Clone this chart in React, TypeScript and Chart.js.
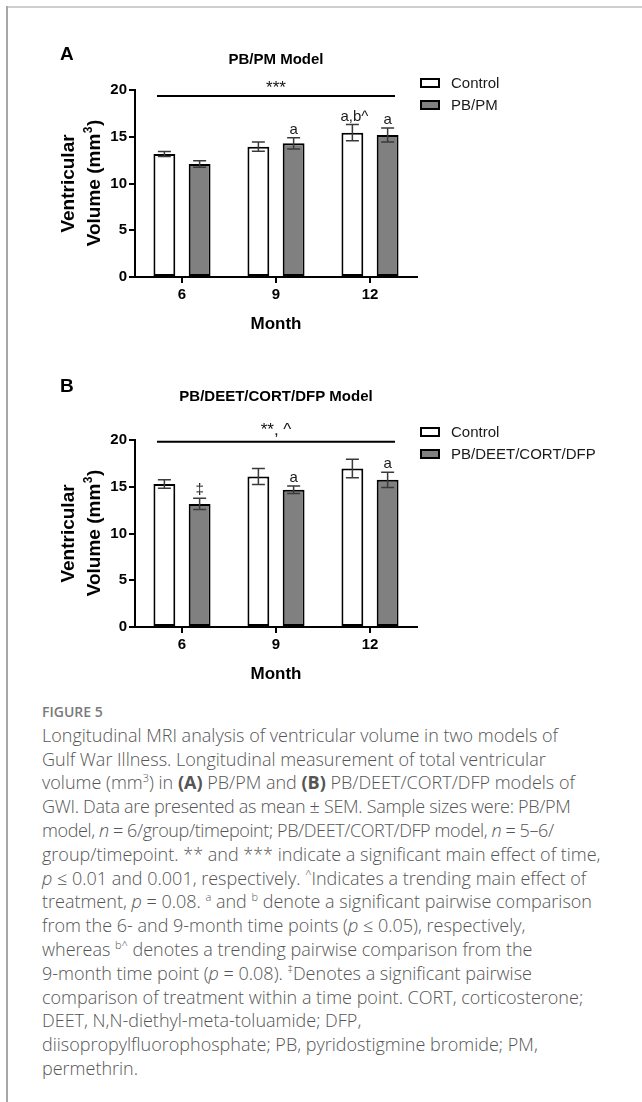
import React, { useEffect, useLayoutEffect, useRef } from 'react';
import { Chart, registerables } from 'chart.js';

Chart.register(...registerables);

const FONT = 'Arial, "Liberation Sans", Helvetica, sans-serif';

// ---- shared axis data ----
const months = ['6', '9', '12'];
const yTickValues = [0, 5, 10, 15, 20];

// ---- Panel A: PB/PM model ----
const controlA = [13.15, 13.94, 15.44];
const controlSemA = [0.27, 0.5, 0.86];
const pbpmA = [12.09, 14.3, 15.19];
const pbpmSemA = [0.35, 0.6, 0.75];
const controlMarksA = ['', '', 'a,b^'];
const pbpmMarksA = ['', 'a', 'a'];

// ---- Panel B: PB/DEET/CORT/DFP model ----
const controlB = [15.29, 16.1, 16.95];
const controlSemB = [0.45, 0.85, 0.98];
const gwiB = [13.16, 14.68, 15.74];
const gwiSemB = [0.6, 0.4, 0.81];
const controlMarksB = ['', '', ''];
const gwiMarksB = ['‡', 'a', 'a'];

type PanelCfg = {
  letter: string;
  title: string;
  treatName: string;
  sigText: string;
  sigValue: number;
  control: number[];
  controlSem: number[];
  treat: number[];
  treatSem: number[];
  controlMarks: string[];
  treatMarks: string[];
  letterY: number;
  titleY: number;
  sigY: number;
  legendY: number;
};

const panelA: PanelCfg = {
  letter: 'A',
  title: 'PB/PM Model',
  treatName: 'PB/PM',
  sigText: '***',
  sigValue: 19.36,
  control: controlA,
  controlSem: controlSemA,
  treat: pbpmA,
  treatSem: pbpmSemA,
  controlMarks: controlMarksA,
  treatMarks: pbpmMarksA,
  letterY: 52,
  titleY: 55.5,
  sigY: 84.5,
  legendY: 75,
};

const panelB: PanelCfg = {
  letter: 'B',
  title: 'PB/DEET/CORT/DFP Model',
  treatName: 'PB/DEET/CORT/DFP',
  sigText: '**, ^',
  sigValue: 19.8,
  control: controlB,
  controlSem: controlSemB,
  treat: gwiB,
  treatSem: gwiSemB,
  controlMarks: controlMarksB,
  treatMarks: gwiMarksB,
  letterY: 34,
  titleY: 42.5,
  sigY: 76.5,
  legendY: 74,
};

const W = 642;
const H = 340;

function Panel({ cfg, top }: { cfg: PanelCfg; top: number }) {
  const ref = useRef<HTMLCanvasElement>(null);
  useEffect(() => {
    const canvas = ref.current;
    if (!canvas) return;
    const sems = [cfg.controlSem, cfg.treatSem];
    const marks = [cfg.controlMarks, cfg.treatMarks];
    const fills = ['#ffffff', '#808080'];
    const names = ['Control', cfg.treatName];

    const decor = {
      id: 'decor',
      afterDraw(chart: any) {
        const ctx: CanvasRenderingContext2D = chart.ctx;
        const ca = chart.chartArea;
        const y = chart.scales.y;
        const cx = (ca.left + ca.right) / 2;
        ctx.save();

        // error bars + marks
        chart.data.datasets.forEach((ds: any, i: number) => {
          const meta = chart.getDatasetMeta(i);
          meta.data.forEach((bar: any, j: number) => {
            const v = ds.data[j] as number;
            const s = sems[i][j];
            const x = bar.x;
            const yt = y.getPixelForValue(v + s);
            const yb = y.getPixelForValue(v - s);
            ctx.strokeStyle = '#3a3a3a';
            ctx.lineWidth = 1.5;
            ctx.beginPath();
            ctx.moveTo(x, yt);
            ctx.lineTo(x, yb);
            ctx.moveTo(x - 6.5, yt);
            ctx.lineTo(x + 6.5, yt);
            ctx.moveTo(x - 6.5, yb);
            ctx.lineTo(x + 6.5, yb);
            ctx.stroke();
            const m = marks[i][j];
            if (m) {
              ctx.fillStyle = '#1a1a1a';
              ctx.font = `15px ${FONT}`;
              ctx.textAlign = 'center';
              ctx.textBaseline = 'alphabetic';
              ctx.fillText(m, x + (m.length > 2 ? 2 : 0), yt - 4);
            }
          });
        });

        // significance line and text
        const ly = y.getPixelForValue(cfg.sigValue);
        ctx.strokeStyle = '#000';
        ctx.lineWidth = 2;
        ctx.beginPath();
        ctx.moveTo(ca.left + 22, ly);
        ctx.lineTo(ca.right - 22, ly);
        ctx.stroke();
        ctx.fillStyle = '#111';
        ctx.font = `17px ${FONT}`;
        ctx.textAlign = 'center';
        ctx.textBaseline = 'alphabetic';
        ctx.fillText(cfg.sigText, cx, cfg.sigY);

        // panel letter
        ctx.fillStyle = '#000';
        ctx.font = `bold 19px ${FONT}`;
        ctx.textAlign = 'left';
        ctx.fillText(cfg.letter, 60, cfg.letterY);

        // title
        ctx.font = `bold 15px ${FONT}`;
        ctx.textAlign = 'center';
        ctx.fillText(cfg.title, cx, cfg.titleY);

        // legend
        names.forEach((n, i) => {
          const yc = cfg.legendY + i * 22;
          ctx.fillStyle = fills[i];
          ctx.fillRect(421, yc - 4, 18, 8);
          ctx.strokeStyle = '#000';
          ctx.lineWidth = 2;
          ctx.strokeRect(421, yc - 4, 18, 8);
          ctx.fillStyle = '#1a1a1a';
          ctx.font = `15px ${FONT}`;
          ctx.textAlign = 'left';
          ctx.fillText(n, 451, yc + 5.4);
        });

        // y-axis title (rotated, two lines)
        const midY = (ca.top + ca.bottom) / 2;
        ctx.fillStyle = '#000';
        ctx.save();
        ctx.translate(74, midY);
        ctx.rotate(-Math.PI / 2);
        ctx.font = `bold 19px ${FONT}`;
        ctx.textAlign = 'center';
        ctx.textBaseline = 'alphabetic';
        ctx.fillText('Ventricular', 0, 0);
        ctx.restore();

        ctx.save();
        ctx.translate(100, midY);
        ctx.rotate(-Math.PI / 2);
        ctx.textAlign = 'left';
        ctx.textBaseline = 'alphabetic';
        const main = 'Volume (mm';
        const sup = '3';
        const close = ')';
        ctx.font = `bold 19px ${FONT}`;
        const w1 = ctx.measureText(main).width;
        const w3 = ctx.measureText(close).width;
        ctx.font = `bold 12px ${FONT}`;
        const w2 = ctx.measureText(sup).width;
        const start = -(w1 + w2 + w3) / 2;
        ctx.font = `bold 19px ${FONT}`;
        ctx.fillText(main, start, 0);
        ctx.font = `bold 12px ${FONT}`;
        ctx.fillText(sup, start + w1 + 0.5, -8);
        ctx.font = `bold 19px ${FONT}`;
        ctx.fillText(close, start + w1 + w2 + 1, 0);
        ctx.restore();

        // x-axis title
        ctx.font = `bold 17px ${FONT}`;
        ctx.textAlign = 'center';
        ctx.fillText('Month', cx, 321);

        ctx.restore();
      },
    };

    const chart = new Chart(canvas, {
      type: 'bar',
      data: {
        labels: months,
        datasets: [
          {
            label: 'Control',
            data: cfg.control,
            backgroundColor: '#ffffff',
            borderColor: '#000000',
            borderWidth: 2,
            borderSkipped: false,
            categoryPercentage: 0.75,
            barPercentage: 0.62,
          },
          {
            label: cfg.treatName,
            data: cfg.treat,
            backgroundColor: '#808080',
            borderColor: '#000000',
            borderWidth: 2,
            borderSkipped: false,
            categoryPercentage: 0.75,
            barPercentage: 0.62,
          },
        ],
      },
      options: {
        responsive: false,
        animation: false,
        devicePixelRatio: 1,
        layout: { padding: { left: 75, right: 225, top: 82, bottom: 41 } },
        plugins: {
          legend: { display: false },
          tooltip: { enabled: false },
          title: { display: false },
        },
        scales: {
          x: {
            grid: {
              offset: false,
              drawOnChartArea: false,
              drawTicks: true,
              tickLength: 6,
              color: '#000',
              lineWidth: 2,
            },
            border: { color: '#000', width: 2 },
            ticks: {
              color: '#000',
              padding: 3,
              font: { family: FONT, size: 15, weight: 'bold' },
            },
            afterFit: (s: any) => {
              s.height = 30;
            },
          },
          y: {
            min: 0,
            max: 20,
            grid: {
              drawOnChartArea: false,
              drawTicks: true,
              tickLength: 6,
              color: '#000',
              lineWidth: 2,
            },
            border: { color: '#000', width: 2 },
            ticks: {
              color: '#000',
              padding: 2,
              font: { family: FONT, size: 15, weight: 'bold' },
            },
            afterBuildTicks: (s: any) => {
              s.ticks = yTickValues.map((v) => ({ value: v }));
            },
            afterFit: (s: any) => {
              s.width = 60;
            },
          },
        },
      } as any,
      plugins: [decor],
    });
    return () => chart.destroy();
  }, [cfg]);

  return (
    <canvas
      ref={ref}
      width={W}
      height={H}
      style={{ position: 'absolute', left: 0, top, width: W, height: H, display: 'block' }}
    />
  );
}

const supStyle: React.CSSProperties = { fontSize: '11px', lineHeight: 0, verticalAlign: 'super' };

function S({ children }: { children: React.ReactNode }) {
  return <span style={supStyle}>{children}</span>;
}

function Caption() {
  return (
    <div
      style={{
        position: 'absolute',
        left: 42,
        top: 700,
        fontFamily: '"Open Sans", "Noto Sans", sans-serif',
        fontWeight: 300,
        fontSize: 18,
        lineHeight: '23.8px',
        color: '#555',
        whiteSpace: 'nowrap',
      }}
    >
      <div style={{ fontSize: 14, fontWeight: 600, color: '#7a7a7a' }}>FIGURE 5</div>
      <div>Longitudinal MRI analysis of ventricular volume in two models of</div>
      <div>Gulf War Illness. Longitudinal measurement of total ventricular</div>
      <div>
        volume (mm<S>3</S>) in <b style={{ fontWeight: 700 }}>(A)</b> PB/PM and{' '}
        <b style={{ fontWeight: 700 }}>(B)</b> PB/DEET/CORT/DFP models of
      </div>
      <div style={{ letterSpacing: '-0.3px' }}>
        GWI. Data are presented as mean ± SEM. Sample sizes were: PB/PM
      </div>
      <div style={{ letterSpacing: '-0.4px' }}>
        model, <i>n</i> = 6/group/timepoint; PB/DEET/CORT/DFP model, <i>n</i> = 5–6/
      </div>
      <div>group/timepoint. ** and *** indicate a significant main effect of time,</div>
      <div>
        <i>p</i> ≤ 0.01 and 0.001, respectively. <S>^</S>Indicates a trending main effect of
      </div>
      <div>
        treatment, <i>p</i> = 0.08. <S>a</S> and <S>b</S> denote a significant pairwise comparison
      </div>
      <div>
        from the 6- and 9-month time points (<i>p</i> ≤ 0.05), respectively,
      </div>
      <div>
        whereas <S>b^</S> denotes a trending pairwise comparison from the
      </div>
      <div>
        9-month time point (<i>p</i> = 0.08). <S>‡</S>Denotes a significant pairwise
      </div>
      <div>comparison of treatment within a time point. CORT, corticosterone;</div>
      <div>DEET, N,N-diethyl-meta-toluamide; DFP,</div>
      <div>diisopropylfluorophosphate; PB, pyridostigmine bromide; PM,</div>
      <div>permethrin.</div>
    </div>
  );
}

export default function App() {
  useLayoutEffect(() => {
    document.body.style.margin = '0';
    document.documentElement.style.overflow = 'hidden';
    document.body.style.background = '#ffffff';
  }, []);
  return (
    <div style={{ position: 'relative', width: 642, height: 1102, overflow: 'hidden', background: '#fff' }}>
      <div style={{ position: 'absolute', left: 6, top: 6, width: 636, height: 2, background: '#cfcfcf' }} />
      <div style={{ position: 'absolute', left: 6, top: 6, width: 2, height: 1096, background: '#a8a8a8' }} />
      <Panel cfg={panelA} top={8} />
      <Panel cfg={panelB} top={358} />
      <Caption />
    </div>
  );
}
